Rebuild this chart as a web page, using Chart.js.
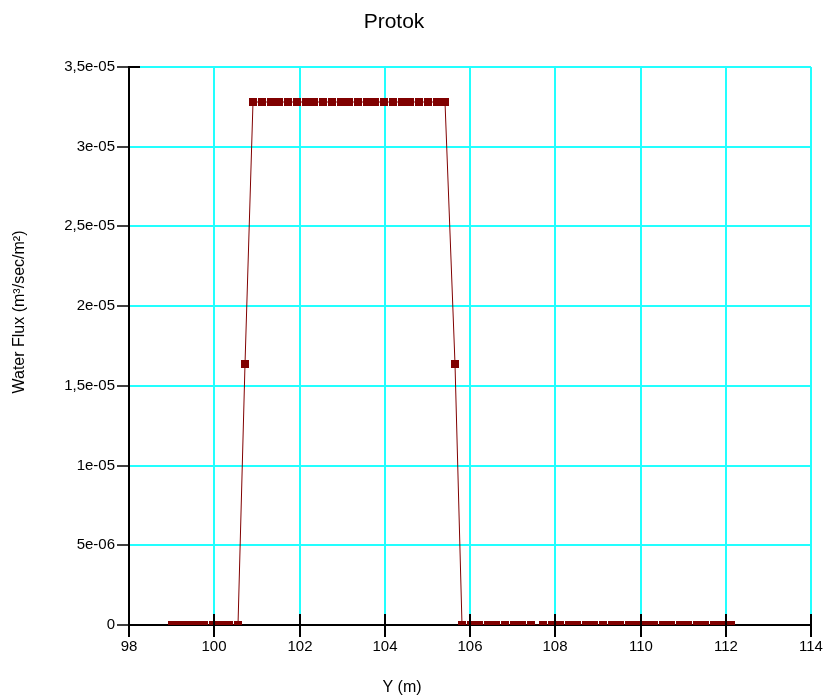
<!DOCTYPE html>
<html>
<head>
<meta charset="utf-8">
<title>Protok</title>
<script src="https://cdn.jsdelivr.net/npm/chart.js@4/dist/chart.umd.min.js"></script>
<style>
    html, body { margin: 0; padding: 0; background: #fff; }
    #wrap { width: 827px; height: 700px; }
</style>
</head>
<body>
<div id="wrap"><canvas id="myChart" width="827" height="700"></canvas></div>
<script>
// positions along the section (m) and the flux read at each one
const yPositions = [
    99.00, 99.19, 99.38, 99.58, 99.77, 99.96, 100.16, 100.35, 100.55,
    100.72,
    100.92, 101.12, 101.33, 101.53, 101.74, 101.94, 102.15, 102.35, 102.56, 102.76, 102.97, 103.17,
    103.37, 103.58, 103.78, 103.99, 104.19, 104.40, 104.60, 104.81, 105.01, 105.22, 105.42,
    105.64,
    105.82, 106.02, 106.22, 106.42, 106.62, 106.83, 107.03, 107.23, 107.44,
    107.72, 107.92, 108.12, 108.32, 108.52, 108.72, 108.92, 109.12, 109.32, 109.52, 109.72, 109.92,
    110.12, 110.32, 110.52, 110.72, 110.92, 111.12, 111.32, 111.52, 111.72, 111.92, 112.12
];
const waterFlux = [
    0, 0, 0, 0, 0, 0, 0, 0, 0,
    1.64e-5,
    3.28e-5, 3.28e-5, 3.28e-5, 3.28e-5, 3.28e-5, 3.28e-5, 3.28e-5, 3.28e-5, 3.28e-5, 3.28e-5, 3.28e-5, 3.28e-5,
    3.28e-5, 3.28e-5, 3.28e-5, 3.28e-5, 3.28e-5, 3.28e-5, 3.28e-5, 3.28e-5, 3.28e-5, 3.28e-5, 3.28e-5,
    1.64e-5,
    0, 0, 0, 0, 0, 0, 0, 0, 0,
    0, 0, 0, 0, 0, 0, 0, 0, 0, 0, 0, 0,
    0, 0, 0, 0, 0, 0, 0, 0, 0, 0, 0
];
const xTickLabels = ['98', '100', '102', '104', '106', '108', '110', '112', '114'];
const yTickLabels = ['0', '5e-06', '1e-05', '1,5e-05', '2e-05', '2,5e-05', '3e-05', '3,5e-05'];

const FONT = '"Liberation Sans", Arial, sans-serif';

// titles + the little tick marks that cross into the plot
const extras = {
    id: 'extras',
    afterDraw(chart) {
        const ctx = chart.ctx;
        const area = chart.chartArea;
        const xs = chart.scales.x;
        const ys = chart.scales.y;
        ctx.save();
        ctx.strokeStyle = '#000';
        ctx.lineWidth = 2;
        xs.ticks.forEach(t => {
            const px = Math.round(xs.getPixelForValue(t.value));
            ctx.beginPath();
            ctx.moveTo(px, area.bottom - 11);
            ctx.lineTo(px, area.bottom);
            ctx.stroke();
        });
        const topY = Math.round(ys.getPixelForValue(ys.max));
        ctx.beginPath();
        ctx.moveTo(area.left, topY);
        ctx.lineTo(area.left + 11, topY);
        ctx.stroke();

        ctx.fillStyle = '#000';
        ctx.textAlign = 'center';
        ctx.textBaseline = 'middle';
        ctx.font = '21px ' + FONT;
        ctx.fillText('Protok', 394, 22);
        ctx.font = '16px ' + FONT;
        ctx.fillText('Y (m)', 402, 688);
        ctx.translate(20, 312);
        ctx.rotate(-Math.PI / 2);
        ctx.fillText('Water Flux (m³/sec/m²)', 0, 0);
        ctx.restore();
    }
};

const points = yPositions.map((x, i) => ({ x: x, y: waterFlux[i] }));

const ctx = document.getElementById('myChart').getContext('2d');
const myChart = new Chart(ctx, {
    type: 'line',
    data: {
        datasets: [{
            label: 'Water Flux',
            data: points,
            borderColor: '#800000',
            borderWidth: 1,
            backgroundColor: '#800000',
            pointStyle: 'rect',
            pointRadius: 5.7,
            pointBorderWidth: 0,
            tension: 0
        }]
    },
    options: {
        responsive: false,
        animation: false,
        layout: { padding: { top: 67, right: 16, left: 0, bottom: 0 } },
        plugins: {
            legend: { display: false },
            tooltip: { enabled: false }
        },
        scales: {
            x: {
                type: 'linear',
                min: 98,
                max: 114,
                alignToPixels: true,
                afterFit(scale) { scale.height = 75; },
                afterBuildTicks(scale) {
                    scale.ticks = xTickLabels.map(v => ({ value: Number(v) }));
                },
                ticks: {
                    color: '#000',
                    font: { family: FONT, size: 15 },
                    padding: 1,
                    maxRotation: 0,
                    callback: (v, i) => xTickLabels[i]
                },
                grid: {
                    color: '#2ff',
                    lineWidth: 2,
                    tickColor: '#000',
                    tickWidth: 2,
                    tickLength: 12
                },
                border: { color: '#000', width: 2 }
            },
            y: {
                type: 'linear',
                min: 0,
                max: 3.5e-5,
                alignToPixels: true,
                afterFit(scale) { scale.width = 129; },
                afterBuildTicks(scale) {
                    scale.ticks = yTickLabels.map((s, i) => ({ value: i * 5e-6 }));
                },
                ticks: {
                    color: '#000',
                    font: { family: FONT, size: 15 },
                    padding: 2,
                    callback: (v, i) => yTickLabels[i]
                },
                grid: {
                    color: '#2ff',
                    lineWidth: 2,
                    tickColor: '#000',
                    tickWidth: 1.5,
                    tickLength: 12
                },
                border: { color: '#000', width: 2 }
            }
        }
    },
    plugins: [extras]
});
</script>
</body>
</html>
